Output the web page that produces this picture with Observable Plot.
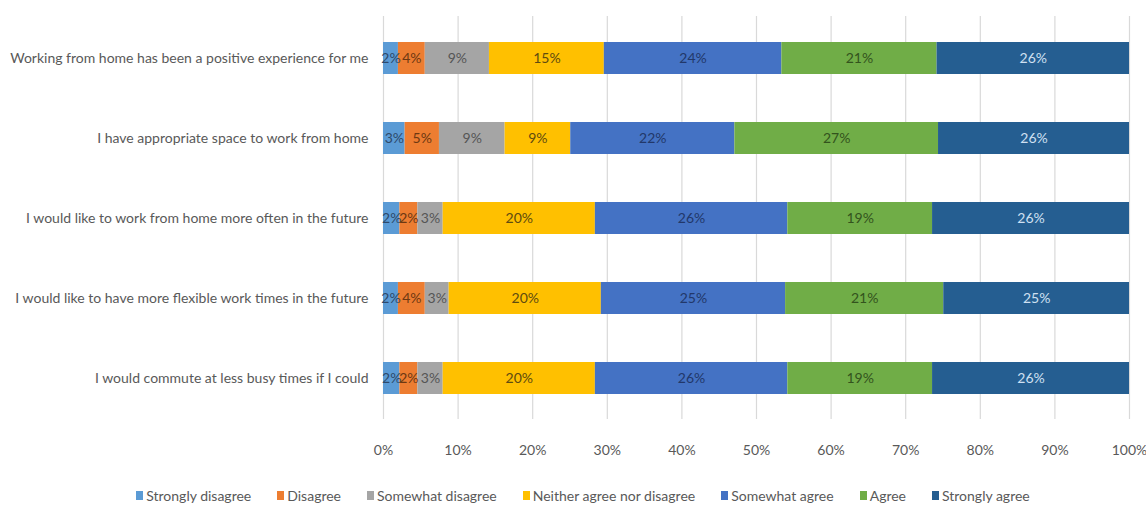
<!DOCTYPE html>
<html>
<head>
<meta charset="utf-8">
<script src="https://cdn.jsdelivr.net/npm/d3@7"></script>
<script src="https://cdn.jsdelivr.net/npm/@observablehq/plot@0.6"></script>
<style>
  body { margin: 0; background: #fff; font-family: Lato, "Open Sans", sans-serif; }
  #chart svg { display: block; }
  #legend { display: flex; justify-content: center; gap: 26px; font-size: 14px; color: #595959; height: 22px; align-items: center; padding-left: 20px; }
  #legend .item { display: flex; align-items: center; gap: 3px; }
  #legend .sw { width: 7px; height: 9px; display: inline-block; }
</style>
</head>
<body>
<div id="chart"></div>
<div id="legend"></div>
<script>
const questions = [
  "Working from home has been a positive experience for me",
  "I have appropriate space to work from home",
  "I would like to work from home more often in the future",
  "I would like to have more flexible work times in the future",
  "I would commute at less busy times if I could"
];
const responses = ["Strongly disagree", "Disagree", "Somewhat disagree", "Neither agree nor disagree", "Somewhat agree", "Agree", "Strongly agree"];
const stronglyDisagree = [2.0, 2.9, 2.2, 2.0, 2.2];
const disagree         = [3.6, 4.6, 2.4, 3.6, 2.4];
const somewhatDisagree = [8.6, 8.8, 3.4, 3.2, 3.4];
const neither          = [15.4, 8.8, 20.4, 20.4, 20.4];
const somewhatAgree    = [23.8, 22.0, 25.8, 24.7, 25.8];
const agree            = [20.8, 27.3, 19.4, 21.2, 19.4];
const stronglyAgree    = [25.8, 25.6, 26.4, 24.9, 26.4];
const xTicks = [0, 10, 20, 30, 40, 50, 60, 70, 80, 90, 100];

const colors = ["#5B9BD5", "#ED7D31", "#A5A5A5", "#FFC000", "#4472C4", "#70AD47", "#255E91"];
const labelColors = ["#2e4a6b", "#6e3812", "#555555", "#5e4b10", "#22386a", "#33531d", "#cfe0f2"];

const series = [stronglyDisagree, disagree, somewhatDisagree, neither, somewhatAgree, agree, stronglyAgree];
const data = [];
questions.forEach((q, qi) => {
  let acc = 0;
  responses.forEach((r, ri) => {
    const v = series[ri][qi];
    data.push({question: q, response: r, value: v, x1: acc, x2: acc + v, ri});
    acc += v;
  });
});

const textMarks = responses.map((r, ri) =>
  Plot.text(data, {
    filter: d => d.response === r,
    x: d => (d.x1 + d.x2) / 2,
    y: "question",
    text: d => Math.round(d.value) + "%",
    fill: labelColors[ri],
    fontSize: 14
  })
);

const chart = Plot.plot({
  width: 1146,
  height: 484,
  marginLeft: 383,
  marginRight: 17,
  marginTop: 16,
  marginBottom: 65,
  style: {fontFamily: "Lato, 'Open Sans', sans-serif", fontSize: "14px", color: "#595959", background: "#fff"},
  x: {domain: [0, 100], ticks: xTicks, tickFormat: d => d + "%", tickSize: 0, tickPadding: 26, label: null},
  y: {domain: questions, paddingInner: 0.6, paddingOuter: 0.3, tickSize: 0, tickPadding: 15, label: null},
  color: {domain: responses, range: colors},
  marks: [
    Plot.ruleX(xTicks, {stroke: "#d9d9d9", strokeWidth: 1.2}),
    Plot.barX(data, {x1: "x1", x2: "x2", y: "question", fill: "response"}),
    ...textMarks
  ]
});
document.getElementById("chart").appendChild(chart);

const legend = document.getElementById("legend");
responses.forEach((r, i) => {
  const item = document.createElement("span");
  item.className = "item";
  const sw = document.createElement("span");
  sw.className = "sw";
  sw.style.background = colors[i];
  item.appendChild(sw);
  item.appendChild(document.createTextNode(r));
  legend.appendChild(item);
});
</script>
</body>
</html>
